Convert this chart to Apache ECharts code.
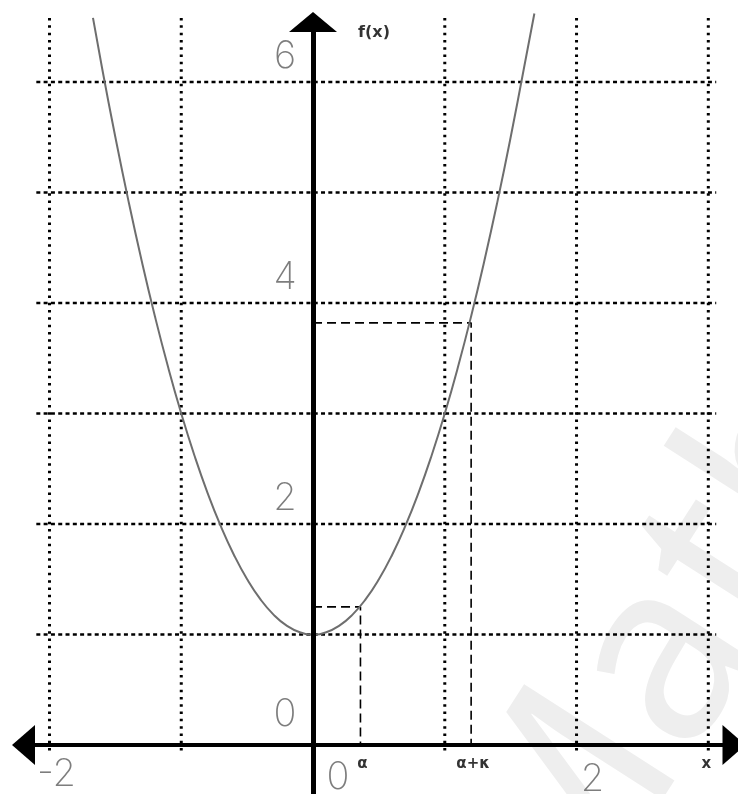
<!DOCTYPE html>
<html>
<head>
<meta charset="utf-8">
<script src="https://cdn.jsdelivr.net/npm/echarts@6/dist/echarts.min.js"></script>
<style>
  html, body { margin: 0; padding: 0; background: #fff; }
  #chart { width: 738px; height: 794px; }
</style>
</head>
<body>
<div id="chart"></div>
<script>
var curveX = [-1.67, -1.6, -1.5, -1.4, -1.3, -1.2, -1.1, -1.0, -0.9, -0.8, -0.7, -0.6, -0.5, -0.4, -0.3, -0.2, -0.1, 0,
              0.1, 0.2, 0.3, 0.4, 0.5, 0.6, 0.7, 0.8, 0.9, 1.0, 1.1, 1.2, 1.3, 1.4, 1.5, 1.6, 1.68];
var curveY = [6.58, 6.12, 5.5, 4.92, 4.38, 3.88, 3.42, 3.0, 2.62, 2.28, 1.98, 1.72, 1.5, 1.32, 1.18, 1.08, 1.02, 1.0,
              1.02, 1.08, 1.18, 1.32, 1.5, 1.72, 1.98, 2.28, 2.62, 3.0, 3.42, 3.88, 4.38, 4.92, 5.5, 6.12, 6.62];

// grid lines
var gridX = [-2, -1, 0, 1, 2, 3];
var gridY = [1, 2, 3, 4, 5, 6];

// marked points on the curve
var markNames = ['α', 'α+κ'];
var markX = [0.36, 1.2];
var markY = [1.25, 3.82];

// tick labels
var yTickVals = [0, 2, 4, 6];
var yTickText = ['0', '2', '4', '6'];
var xTickVals = [-2, 0, 2];
var xTickText = ['-2', '0', '2'];

var chart = echarts.init(document.getElementById('chart'));

var series = [];

// vertical dotted grid lines
gridX.forEach(function (gx) {
    series.push({
        type: 'line', clip: false, silent: true, symbol: 'none', z: 1,
        lineStyle: {color: '#000', width: 3, type: [2.5, 4.8]},
        data: [[gx, -0.05], [gx, 6.615]]
    });
});
// horizontal dashed grid lines
gridY.forEach(function (gy) {
    series.push({
        type: 'line', clip: false, silent: true, symbol: 'none', z: 1,
        lineStyle: {color: '#000', width: 2.5, type: [4, 3.3]},
        data: [[-2.1, gy], [3.06, gy]]
    });
});

// dashed helper lines for α and α+κ
markX.forEach(function (mx, i) {
    series.push({
        type: 'line', clip: false, silent: true, symbol: 'none', z: 3,
        lineStyle: {color: '#000', width: 1.6, type: [9, 5]},
        data: [[0, markY[i]], [mx, markY[i]], [mx, 0]]
    });
});

// the curve
series.push({
    type: 'line', clip: false, silent: true, symbol: 'none', smooth: true, z: 4,
    lineStyle: {color: '#6e6e6e', width: 2},
    data: curveX.map(function (x, i) { return [x, curveY[i]]; })
});

// text labels on transparent scatter points
var yLabelData = yTickVals.map(function (v, i) {
    return {value: [0, v], label: {formatter: yTickText[i], offset: [-28, v === 0 ? -30 : -25]}};
});
var xOffsets = [[7, 30], [25, 33], [16, 35]];
var xLabelData = xTickVals.map(function (v, i) {
    return {value: [v, 0], label: {formatter: xTickText[i], offset: xOffsets[i]}};
});
series.push({
    type: 'scatter', symbolSize: 1, silent: true, z: 6, clip: false,
    itemStyle: {color: 'rgba(0,0,0,0)'},
    label: {
        show: true, position: 'inside', color: '#5c5c5c',
        fontFamily: 'Inter', fontWeight: 200, fontSize: 38
    },
    data: yLabelData.concat(xLabelData)
});
var markLabelData = markX.map(function (mx, i) {
    return {value: [mx, 0], label: {formatter: markNames[i], offset: [2, 19]}};
});
markLabelData.push({value: [3, 0], label: {formatter: 'x', offset: [-2, 19]}});
markLabelData.push({value: [0, 6.543], label: {formatter: 'f(x)', offset: [61, 11], fontSize: 16}});
series.push({
    type: 'scatter', symbolSize: 1, silent: true, z: 6, clip: false,
    itemStyle: {color: 'rgba(0,0,0,0)'},
    label: {
        show: true, position: 'inside', color: '#000',
        fontFamily: 'DejaVu Sans', fontWeight: 'bold', fontSize: 15
    },
    data: markLabelData
});

var option = {
    animation: false,
    backgroundColor: '#fff',
    grid: {left: 23.5, right: 4, top: 22, bottom: 0},
    xAxis: {
        type: 'value', min: -2.1973, max: 3.195, z: 5,
        axisLine: {
            onZero: true,
            lineStyle: {color: '#000', width: 4},
            symbol: ['triangle', 'triangle'],
            symbolSize: [40, 23]
        },
        axisTick: {show: false}, axisLabel: {show: false}, splitLine: {show: false}
    },
    yAxis: {
        type: 'value', min: -0.4434, max: 6.543, z: 5,
        axisLine: {
            onZero: true,
            lineStyle: {color: '#000', width: 5},
            symbol: ['none', 'triangle'],
            symbolSize: [48, 20]
        },
        axisTick: {show: false}, axisLabel: {show: false}, splitLine: {show: false}
    },
    // faint watermark
    graphic: [{
        type: 'text', silent: true, z: -10,
        x: 400, y: 845, rotation: 1.0,
        style: {text: 'Math', fill: '#eeeeee', font: '250px "Noto Sans"'}
    }],
    series: series
};
chart.setOption(option);
</script>
</body>
</html>
